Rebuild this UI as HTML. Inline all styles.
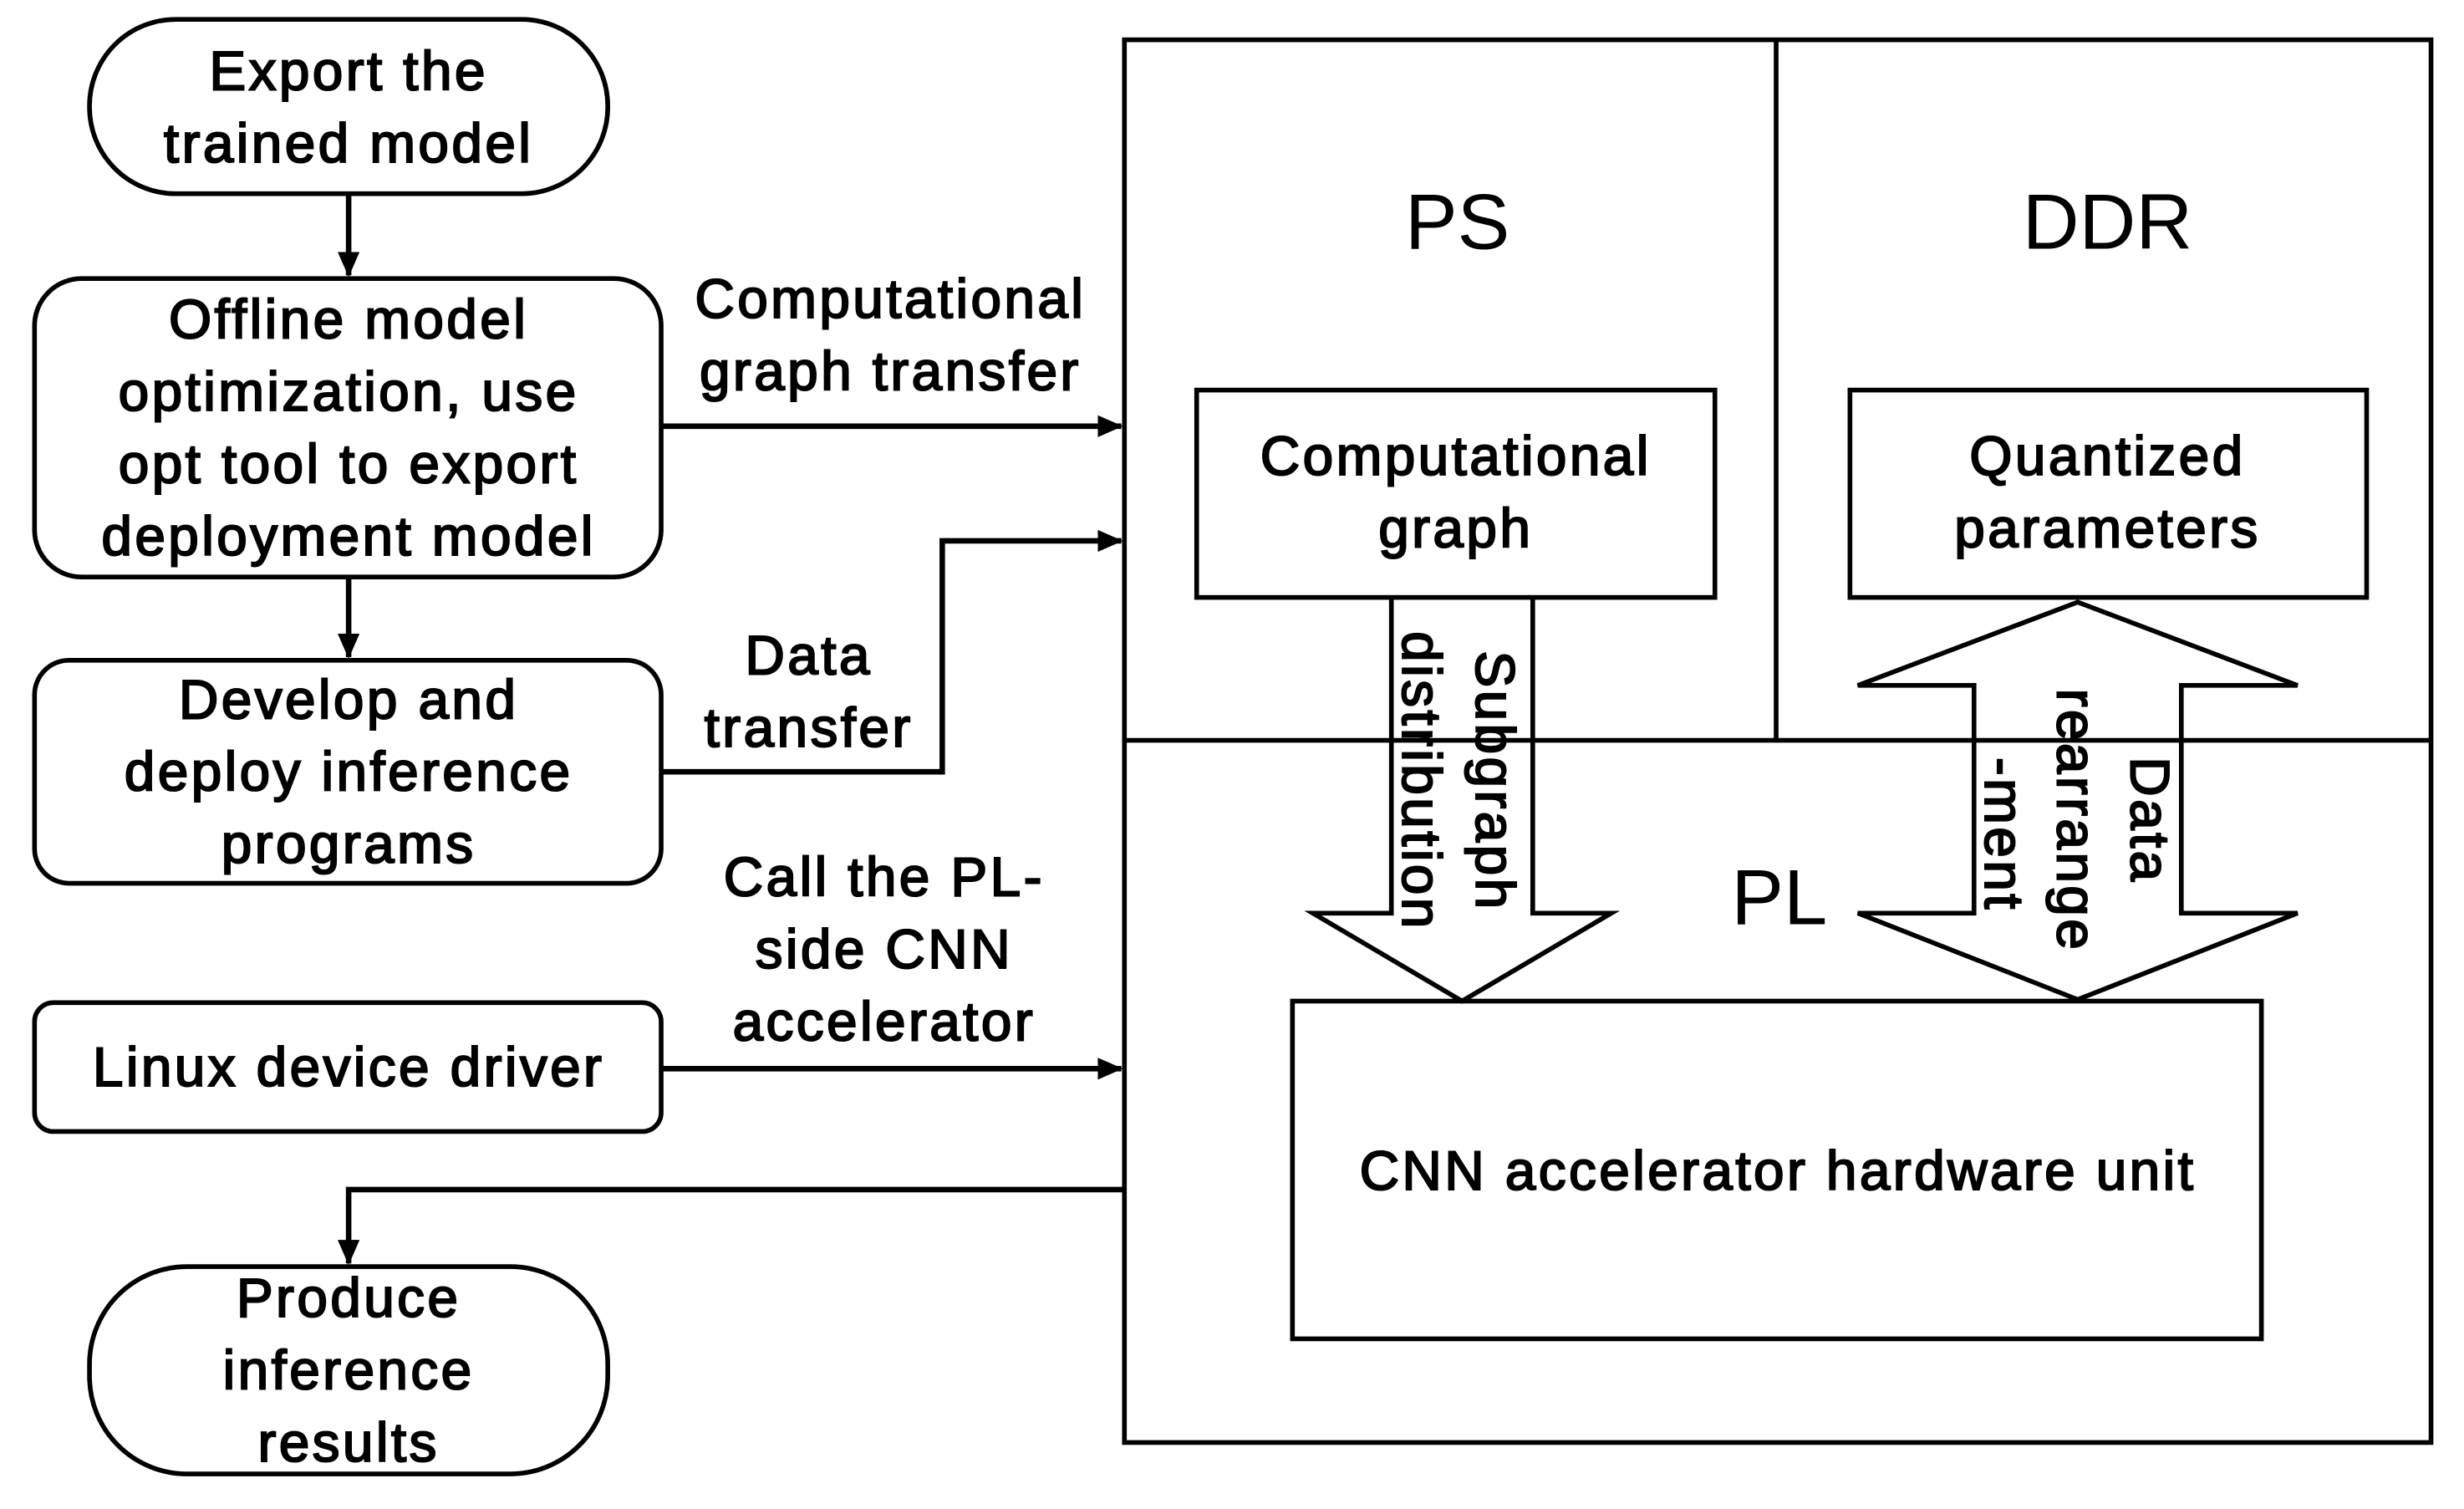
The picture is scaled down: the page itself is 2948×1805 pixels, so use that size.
<!DOCTYPE html>
<html><head><meta charset="utf-8"><style>
html,body{margin:0;padding:0;background:#fff;}
svg{display:block;}
text{font-family:"Liberation Sans","DejaVu Sans",sans-serif;fill:#000;}
.t{font-size:35px;letter-spacing:1.8px;text-anchor:middle;stroke:#000;stroke-width:1.1px;}
.big{font-size:50px;text-anchor:middle;}
</style></head><body>
<svg width="2948" height="1805" viewBox="0 0 1569 960" xmlns="http://www.w3.org/2000/svg">
<defs>
<marker id="a" markerWidth="16" markerHeight="14" refX="15" refY="7" orient="auto" markerUnits="userSpaceOnUse"><path d="M0,0 L16,7 L0,14 z" fill="#000"/></marker></defs>
<g fill="none" stroke="#000" stroke-width="3">
<rect x="57" y="12" width="330" height="111" rx="55"/>
<rect x="22" y="177" width="399" height="190" rx="30"/>
<rect x="22" y="420" width="399" height="142" rx="22"/>
<rect x="22" y="638" width="399" height="82" rx="12"/>
<rect x="57" y="806" width="330" height="132" rx="62"/>
<rect x="716" y="25" width="832" height="893"/>
<line x1="1131" y1="25" x2="1131" y2="471"/>
<line x1="716" y1="471" x2="1548" y2="471"/>
<rect x="762" y="248" width="330" height="132"/>
<rect x="1178" y="248" width="329" height="132"/>
<rect x="823" y="637" width="617" height="215"/>
<path d="M886,380 L886,581 L836,581 L931,637 L1026,581 L976,581 L976,380"/>
<path d="M1323,383 L1183,436 L1257,436 L1257,581 L1183,581 L1323,636 L1463,581 L1389,581 L1389,436 L1463,436 Z"/>
<g stroke-width="3.5">
<line x1="222" y1="123" x2="222" y2="175" marker-end="url(#a)"/>
<line x1="222" y1="367" x2="222" y2="418" marker-end="url(#a)"/>
<line x1="421" y1="271" x2="714" y2="271" marker-end="url(#a)"/>
<path d="M421,491 L600,491 L600,344 L714,344" marker-end="url(#a)"/>
<line x1="421" y1="680" x2="714" y2="680" marker-end="url(#a)"/>
<path d="M716,757 L222,757 L222,804" marker-end="url(#a)"/>
</g>
</g>
<text class="t" x="222" y="57">Export the</text>
<text class="t" x="222" y="103">trained model</text>
<text class="t" x="222" y="215">Offline model</text>
<text class="t" x="222" y="261">optimization, use</text>
<text class="t" x="222" y="307">opt tool to export</text>
<text class="t" x="222" y="353">deployment model</text>
<text class="t" x="222" y="457">Develop and</text>
<text class="t" x="222" y="503">deploy inference</text>
<text class="t" x="222" y="549">programs</text>
<text class="t" x="222" y="691">Linux device driver</text>
<text class="t" x="222" y="838">Produce</text>
<text class="t" x="222" y="884">inference</text>
<text class="t" x="222" y="930">results</text>
<text class="t" x="567" y="202">Computational</text>
<text class="t" x="567" y="248">graph transfer</text>
<text class="t" x="515" y="429">Data</text>
<text class="t" x="515" y="475">transfer</text>
<text class="t" x="563" y="570">Call the PL-</text>
<text class="t" x="563" y="616">side CNN</text>
<text class="t" x="563" y="662">accelerator</text>
<text class="t" x="927" y="302">Computational</text>
<text class="t" x="927" y="348">graph</text>
<text class="t" x="1342" y="302">Quantized</text>
<text class="t" x="1342" y="348">parameters</text>
<text class="t" x="1132" y="757">CNN accelerator hardware unit</text>
<text class="big" x="928" y="158">PS</text>
<text class="big" x="1342" y="158">DDR</text>
<text class="big" x="1133" y="588">PL</text>
<text class="t" transform="translate(940,497) rotate(90)">Subgraph</text>
<text class="t" transform="translate(893,497) rotate(90)">distribution</text>
<text class="t" transform="translate(1357,522) rotate(90)">Data</text>
<text class="t" transform="translate(1310,522) rotate(90)">rearrange</text>
<text class="t" transform="translate(1264,531) rotate(90)">-ment</text>
</svg>
</body></html>
